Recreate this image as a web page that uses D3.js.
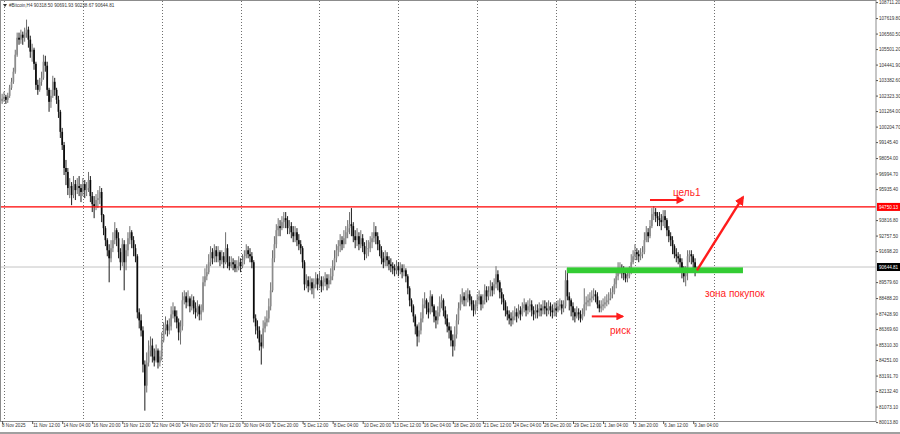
<!DOCTYPE html>
<html>
<head>
<meta charset="utf-8">
<script src="https://cdnjs.cloudflare.com/ajax/libs/d3/7.8.5/d3.min.js"></script>
<style>
body { margin: 0; background: #fff; }
svg { display: block; font-family: "Liberation Sans", Arial, sans-serif; }
</style>
</head>
<body>
<div class="chart"></div>
<script>
// H4 bars, first visible bar and its open
var startTime = "2025-11-08 16:00";
var firstOpen = 101900;

var closes = [
  101990, 102140,
  102270, 102070, 102340, 102890, 103300, 103990, 105150, 106310, 106180, 106520,
  106310, 106660, 106860, 106180, 105360, 105490, 104530, 103090, 102750, 103300,
  103570, 104670, 104400, 102750, 101930, 102340, 103300, 102750, 102070, 101250,
  99880, 98980, 97410, 97140, 96040, 96180, 95560, 96310, 95900, 96180,
  96040, 95770, 96310, 95900, 96040, 96590, 95490, 94940, 94810, 95220,
  95350, 95770, 94190, 93300, 92480, 91790, 91240, 91930, 92480, 93160,
  92610, 91660, 90970, 92200, 90970, 91790, 92610, 93020, 92480,
  91930, 91380, 87550, 87000, 86310, 83980, 82540, 84120, 84940, 85280,
  84530, 84260, 84940, 84120, 84530, 85630, 86450, 86720, 86310, 86590,
  87410, 87680, 87270, 86860, 86180, 86590, 88370, 88640, 88230, 88500,
  87960, 88370, 87820, 87550, 87960, 87410, 87680, 89600, 90010, 90290,
  90970, 91660, 91240, 91790, 91380, 91660, 91110, 91380, 90970, 91930,
  90970, 90700, 90970, 90830, 90560, 90700, 90970, 90700, 91110,
  91380, 91790, 91520, 91380, 90970, 87130, 86590, 86310, 85490, 85220,
  86450, 86860, 87130, 87960, 89050, 91240, 92200, 93160, 93440, 93300,
  93710, 93980, 93850, 93300, 93440, 93020, 92750, 93020, 92480, 92200,
  91930, 90970, 89460, 89740, 89330, 89600, 89190, 89460, 89870, 89460,
  89740, 89330, 89600, 89870, 89460, 89740, 90010, 90700, 91240, 91790,
  92070, 92480, 92200, 92610, 93020, 93300, 93570, 93440, 92750, 92480,
  92750, 92200, 92610, 92070, 91520, 91930, 91930, 92340, 92610,
  93020, 92750, 92200, 91790, 91240, 90970, 91380, 91110, 90830, 90700,
  90560, 90420, 90700, 90420, 90560, 90290, 90420, 90010, 89190, 88370,
  87960, 87270, 86590, 85900, 86310, 87130, 88090, 88370, 87820, 87550,
  88640, 87960, 87270, 87000, 87550, 88230, 88370, 87680, 87130, 86590,
  86310, 85630, 85220, 86040, 87000, 87820, 88230, 88640, 88370, 88500,
  88780, 88370, 88090, 87680, 87960, 88370, 88640, 88090, 88370,
  89050, 88640, 88920, 89330, 89050, 89460, 90150, 89600, 88920, 88500,
  88230, 87680, 87410, 87130, 87000, 87270, 87550, 87270, 87680, 87410,
  87820, 88090, 87680, 87960, 88090, 87680, 87410, 87680, 87550, 87820,
  87680, 87960, 87820, 87680, 87960, 87680, 87550, 87820, 87680,
  87960, 88090, 87820, 87960, 89740, 88640, 88370, 87960, 87550, 87270,
  87550, 87410, 87130, 87410, 88090, 88230, 88370, 88500, 88640, 88780,
  88640, 88090, 87820, 87960, 88090, 88230, 88370, 88500, 88780,
  88920, 89460, 90010, 90560, 90560, 90290, 90150, 89870, 90010, 90290,
  90970, 91380, 91660, 91520, 91380, 91520, 91660, 92480, 93020, 92750,
  93440, 94260, 94400, 94120, 93980, 93850, 93710, 94120, 93850, 93160,
  92750, 92480, 92070, 91520, 91380, 91240, 90970, 90420, 90010, 90290,
  91380, 91520, 91380, 90970, 90318.50, 90644.81
];

var highs = [
  102340, 102480,
  102620, 102410, 102550, 103090, 103570, 104260, 105490, 106660, 106660, 106860,
  106730, 107000, 107550, 107070, 106450, 105900, 105630, 104670, 103440, 103570,
  103990, 105150, 105080, 104670, 102890, 102750, 103710, 103570, 102890, 102340,
  101380, 100150, 99190, 97960, 97410, 96720, 96450, 96860, 96590, 96720,
  96860, 96310, 96720, 96590, 96450, 97140, 96860, 95770, 95490, 95630,
  95900, 96180, 96040, 94260, 93440, 92610, 92200, 92480, 93020, 93710,
  93300, 93020, 91930, 92610, 92480, 92200, 93020, 93440, 93160,
  92750, 92200, 91520, 87820, 87410, 86590, 84260, 84810, 85630, 85900,
  85760, 85080, 85350, 85080, 84940, 86180, 86860, 87270, 87000, 87130,
  87960, 88230, 87960, 87680, 87130, 87000, 88920, 89050, 88920, 89050,
  88640, 88780, 88640, 88230, 88370, 88090, 88090, 90010, 90560, 90830,
  91520, 92070, 91930, 92200, 92070, 92070, 91790, 91790, 91660, 93020,
  92200, 91380, 91380, 91240, 91110, 91110, 91380, 91240, 91520,
  91790, 92200, 92070, 91930, 91660, 91110, 87410, 87000, 86590, 86040,
  87000, 87270, 87680, 88500, 89600, 91790, 92750, 93570, 93980, 93850,
  94120, 94400, 94400, 94120, 93850, 93710, 93440, 93440, 93300, 92890,
  92480, 92070, 91110, 90150, 90010, 90010, 89870, 89870, 90290, 90150,
  90290, 90010, 90010, 90290, 90150, 90150, 90560, 91110, 91790, 92200,
  92480, 92890, 92750, 93160, 93440, 93850, 94400, 94670, 93710, 93160,
  93300, 93020, 93160, 92890, 92340, 92480, 92480, 92750, 93020,
  93710, 93440, 93020, 92480, 92070, 91660, 91790, 91660, 91380, 91240,
  90970, 90830, 91110, 90970, 90970, 90830, 90830, 90560, 90150, 89330,
  88500, 88090, 87410, 86720, 86860, 87550, 88500, 88920, 88500, 88230,
  89050, 88780, 88090, 87680, 87960, 88640, 88780, 88500, 87960, 87410,
  86860, 86590, 86040, 86590, 87410, 88230, 88780, 89190, 88920, 89050,
  89190, 89050, 88640, 88370, 88370, 88780, 89050, 88780, 88780,
  89460, 89330, 89330, 89740, 89600, 89870, 90700, 90420, 89740, 89190,
  88780, 88370, 87960, 87680, 87550, 87680, 87960, 87820, 88090, 87960,
  88230, 88500, 88230, 88370, 88500, 88370, 87960, 88090, 88090, 88230,
  88090, 88370, 88370, 88230, 88370, 88230, 88090, 88230, 88230,
  88370, 88500, 88370, 88370, 90420, 90560, 88920, 88500, 88230, 87820,
  87960, 87820, 87680, 87820, 89190, 88640, 88780, 88920, 89050, 89190,
  89050, 88920, 88370, 88370, 88500, 88640, 88780, 88920, 89190,
  89330, 89870, 90420, 90970, 90970, 90830, 90700, 90420, 90420, 90700,
  91520, 91790, 92200, 91930, 91790, 91930, 92070, 93020, 93440, 93300,
  93850, 94670, 94810, 94670, 94400, 94400, 94260, 94530, 94530, 93980,
  93440, 93020, 92750, 92200, 91930, 91660, 91520, 91240, 90700, 90700,
  91790, 91790, 91790, 91520, 91240, 90691.93
];

var lows = [
  101660, 101790,
  101930, 101790, 101860, 102200, 102750, 103160, 103850, 105010, 105830, 105900,
  105830, 106040, 106310, 105630, 104940, 104670, 104120, 102750, 102410, 102620,
  103030, 103440, 103990, 102340, 101250, 101520, 102200, 102340, 101790, 100830,
  99460, 98640, 96930, 96240, 95560, 95350, 94870, 95350, 95220, 95630,
  95490, 95080, 95490, 95350, 95490, 95770, 95080, 94400, 93980, 94530,
  94670, 94940, 93710, 92820, 92070, 91380, 89600, 90970, 91660, 92200,
  92070, 91240, 90420, 90700, 89050, 90420, 91380, 92200, 91930,
  91380, 90970, 87130, 86450, 85900, 83440, 80830, 82070, 83850, 84530,
  84120, 83850, 84120, 83710, 83850, 84260, 85490, 86040, 85900, 86040,
  86310, 87130, 86860, 86450, 85630, 85350, 86310, 88090, 87820, 87960,
  87550, 87680, 87410, 87130, 87270, 87000, 87000, 87550, 89330, 89740,
  90150, 90700, 90830, 90970, 90970, 90970, 90700, 90830, 90560, 90830,
  90560, 90420, 90560, 90420, 90290, 90290, 90420, 90290, 90560,
  90830, 91240, 91240, 90970, 90560, 86860, 86040, 85760, 84940, 83980,
  85080, 86180, 86590, 86860, 87680, 88920, 90970, 91930, 92750, 92750,
  93160, 93300, 93300, 92890, 92890, 92610, 92340, 92340, 92070, 91790,
  91520, 90560, 89050, 89190, 88920, 89050, 88780, 88500, 89190, 89050,
  89190, 88920, 89050, 89330, 89050, 89190, 89460, 89740, 90420, 90970,
  91380, 91660, 91790, 91930, 92200, 92610, 92890, 92750, 92340, 91930,
  92070, 91790, 91930, 91660, 91110, 91240, 91380, 91660, 91930,
  92340, 92200, 91790, 91380, 90830, 90560, 90700, 90700, 90420, 90290,
  90150, 90010, 90150, 90010, 90150, 89870, 90010, 89600, 88780, 87960,
  87550, 86860, 86040, 85220, 85490, 86040, 86860, 87820, 87410, 87130,
  87410, 87550, 86860, 86450, 86720, 87270, 87820, 87270, 86720, 86180,
  85760, 85220, 84530, 84940, 85760, 86720, 87680, 88090, 87960, 87960,
  88230, 87960, 87680, 87270, 87410, 87680, 88090, 87680, 87820,
  88090, 88230, 88370, 88640, 88640, 88780, 89190, 89050, 88500, 88090,
  87680, 87270, 87000, 86720, 86590, 86720, 87000, 86860, 87130, 87000,
  87270, 87550, 87270, 87410, 87550, 87270, 87000, 87130, 87130, 87270,
  87270, 87410, 87410, 87270, 87410, 87270, 87130, 87270, 87270,
  87550, 87680, 87410, 87550, 87820, 88370, 87680, 87270, 87000, 86860,
  87130, 87000, 86860, 87000, 87270, 87680, 87960, 87960, 88230, 88370,
  88230, 87820, 87550, 87550, 87680, 87820, 87960, 88090, 88370,
  88500, 88780, 89190, 89740, 90150, 89870, 89740, 89600, 89600, 89870,
  90150, 90830, 91110, 91110, 90970, 91110, 91240, 91520, 92340, 92340,
  92610, 93300, 93850, 93710, 93440, 93440, 93160, 93440, 93300, 92750,
  92340, 92070, 91520, 91240, 90970, 90830, 90560, 89870, 89600, 89330,
  89740, 90970, 90830, 90420, 90010, 90238.67
];

// right price scale labels as printed on the chart
var priceTicks = [108711.20, 107619.80, 106560.50, 105501.20, 104441.90, 103382.60, 102323.30,
  101264.00, 100204.70, 99145.40, 98054.00, 96994.70, 95935.40, 93816.80, 92757.50,
  91698.20, 89579.60, 88488.20, 87428.90, 86369.60, 85310.30, 84251.00, 83191.70,
  82132.40, 81073.10, 80013.80];
var priceMin = 80013.80, priceMax = 108711.20;

// bottom time labels (first one shows the date only)
var timeTicks = ["2025-11-08 20:00", "2025-11-11 12:00", "2025-11-14 04:00", "2025-11-16 20:00",
  "2025-11-19 12:00", "2025-11-22 04:00", "2025-11-24 20:00", "2025-11-27 12:00",
  "2025-11-30 04:00", "2025-12-02 20:00", "2025-12-05 12:00", "2025-12-08 04:00",
  "2025-12-10 20:00", "2025-12-13 12:00", "2025-12-16 04:00", "2025-12-18 20:00",
  "2025-12-21 12:00", "2025-12-24 04:00", "2025-12-26 20:00", "2025-12-29 12:00",
  "2026-01-01 04:00", "2026-01-03 20:00", "2026-01-06 12:00", "2026-01-09 04:00"];

var symbol = "#Bitcoin,H4";
var targetLevel = 94750.13;

var W = 900, H = 434;
var plot = { left: 0, right: 876, top: 0, bottom: 421 };

var parse = d3.utcParse("%Y-%m-%d %H:%M");
var t0 = parse(startTime);
var n = Math.min(closes.length, highs.length, lows.length);
var bars = [];
for (var i = 0; i < n; i++) {
  bars.push({ t: d3.utcHour.offset(t0, 4 * i), o: i ? closes[i - 1] : firstOpen, h: highs[i], l: lows[i], c: closes[i] });
}
var last = bars[n - 1];

var x = d3.scaleUtc()
  .domain([parse("2025-11-09 00:00"), parse("2026-01-09 04:00")])
  .range([4, 693.2]);
var y = d3.scaleLinear()
  .domain([priceMin, priceMax])
  .range([422.6, 2.6]);

var svg = d3.select(".chart").append("svg")
  .attr("width", W).attr("height", H);

svg.append("rect").attr("width", W).attr("height", H).attr("fill", "#fff");

svg.append("defs").append("clipPath").attr("id", "plotclip")
  .append("rect").attr("x", plot.left + 1).attr("y", plot.top + 1)
  .attr("width", plot.right - plot.left - 1).attr("height", plot.bottom - plot.top - 1);

// weekly dotted grid
var weeks = d3.utcSunday.range(parse("2025-11-09 00:00"), parse("2026-01-12 00:00"));
svg.append("g").selectAll("line").data(weeks).enter().append("line")
  .attr("x1", function (d) { return Math.round(x(d)) + 0.5; })
  .attr("x2", function (d) { return Math.round(x(d)) + 0.5; })
  .attr("y1", plot.top + 1).attr("y2", plot.bottom)
  .attr("stroke", "#6f6f6f").attr("stroke-width", 1).attr("stroke-dasharray", "1,2");

var gPlot = svg.append("g").attr("clip-path", "url(#plotclip)");

// bid line
gPlot.append("line")
  .attr("x1", plot.left).attr("x2", plot.right)
  .attr("y1", y(last.c)).attr("y2", y(last.c))
  .attr("stroke", "#c4c4c4").attr("stroke-width", 1);

// candles
var cg = gPlot.append("g");
cg.selectAll("line").data(bars).enter().append("line")
  .attr("x1", function (d) { return x(d.t); })
  .attr("x2", function (d) { return x(d.t); })
  .attr("y1", function (d) { return y(d.h); })
  .attr("y2", function (d) { return y(d.l); })
  .attr("stroke", function (d) { return d.c >= d.o ? "#6e6e6e" : "#1a1a1a"; })
  .attr("stroke-width", 1);
cg.selectAll("rect").data(bars).enter().append("rect")
  .attr("x", function (d) { return x(d.t) - 0.85; })
  .attr("width", 1.7)
  .attr("y", function (d) { return y(Math.max(d.o, d.c)); })
  .attr("height", function (d) { return Math.max(0.8, Math.abs(y(d.o) - y(d.c))); })
  .attr("fill", function (d) { return d.c >= d.o ? "#8c8c8c" : "#0a0a0a"; });

// target line
gPlot.append("line")
  .attr("x1", plot.left).attr("x2", plot.right)
  .attr("y1", y(targetLevel)).attr("y2", y(targetLevel))
  .attr("stroke", "#ff0000").attr("stroke-width", 1.2);

// frame
svg.append("rect")
  .attr("x", 0.5).attr("y", 0.5)
  .attr("width", plot.right - 0.5).attr("height", plot.bottom)
  .attr("fill", "none").attr("stroke", "#8c8c8c");
svg.append("line").attr("x1", 0).attr("x2", W).attr("y1", 433).attr("y2", 433)
  .attr("stroke", "#a0a0a0").attr("stroke-width", 2);

// price scale
var ya = svg.append("g").attr("font-size", 4.6).attr("fill", "#333");
ya.selectAll("line").data(priceTicks).enter().append("line")
  .attr("x1", plot.right).attr("x2", plot.right + 2)
  .attr("y1", function (d) { return y(d); }).attr("y2", function (d) { return y(d); })
  .attr("stroke", "#555");
ya.selectAll("text").data(priceTicks).enter().append("text")
  .attr("x", plot.right + 3).attr("y", function (d) { return y(d); })
  .attr("dy", "0.35em")
  .text(function (d) { return d.toFixed(2); });

function levelTag(v, bg) {
  var g = svg.append("g");
  g.append("rect").attr("x", plot.right + 1).attr("y", y(v) - 4)
    .attr("width", 23).attr("height", 8).attr("fill", bg);
  g.append("text").attr("x", plot.right + 3).attr("y", y(v)).attr("dy", "0.35em")
    .attr("font-size", 4.6).attr("fill", "#fff").text(v.toFixed(2));
}
levelTag(targetLevel, "#ff0000");
levelTag(last.c, "#000");

// time scale
var fmt = d3.utcFormat("%-d %b %H:%M"), fmtFirst = d3.utcFormat("%-d %b %Y");
var tt = timeTicks.map(parse);
var xa = svg.append("g").attr("font-size", 4.6).attr("fill", "#333");
xa.selectAll("line").data(tt).enter().append("line")
  .attr("x1", function (d) { return x(d) + 0.5; }).attr("x2", function (d) { return x(d) + 0.5; })
  .attr("y1", plot.bottom).attr("y2", plot.bottom + 3).attr("stroke", "#555");
xa.selectAll("text").data(tt).enter().append("text")
  .attr("x", function (d, i) { return i ? x(d) + 1 : 2; })
  .attr("y", 427)
  .text(function (d, i) { return i ? fmt(d) : fmtFirst(d); });

// header
svg.append("path").attr("d", "M3,4 L7,4 L5,7 Z").attr("fill", "#333");
svg.append("text").attr("x", 9).attr("y", 7).attr("font-size", 4.6).attr("fill", "#333")
  .text(symbol + "  " + [last.o, last.h, last.l, last.c].map(function (v) { return v.toFixed(2); }).join(" "));

// annotations (time, price)
var red = "#ff1c1c";
var defs = svg.select("defs");
defs.append("marker").attr("id", "ah").attr("viewBox", "0 0 10 10")
  .attr("refX", 8).attr("refY", 5).attr("markerWidth", 4).attr("markerHeight", 4)
  .attr("orient", "auto").append("path").attr("d", "M0,0 L10,5 L0,10 Z").attr("fill", red);

var zone = { from: parse("2025-12-28 23:00"), to: parse("2026-01-13 14:00"), lo: 90220, hi: 90620 };
svg.append("rect")
  .attr("x", x(zone.from)).attr("width", x(zone.to) - x(zone.from))
  .attr("y", y(zone.hi)).attr("height", y(zone.lo) - y(zone.hi))
  .attr("fill", "#33cc33");

function arrow(t1, p1, t2, p2, w) {
  svg.append("line")
    .attr("x1", x(parse(t1))).attr("y1", y(p1))
    .attr("x2", x(parse(t2))).attr("y2", y(p2))
    .attr("stroke", red).attr("stroke-width", w)
    .attr("marker-end", "url(#ah)");
}
arrow("2026-01-09 12:00", 90420, "2026-01-13 14:00", 95420, 2.4);
arrow("2026-01-05 08:00", 95220, "2026-01-08 06:00", 95220, 2);
arrow("2025-12-31 04:00", 87270, "2026-01-02 22:00", 87270, 2);

var notes = svg.append("g").attr("font-size", 10).attr("fill", red);
notes.append("text").attr("x", 673).attr("y", 196).text("цель1");
notes.append("text").attr("x", 705).attr("y", 297).text("зона покупок");
notes.append("text").attr("x", 610).attr("y", 334).text("риск");
</script>
</body>
</html>
